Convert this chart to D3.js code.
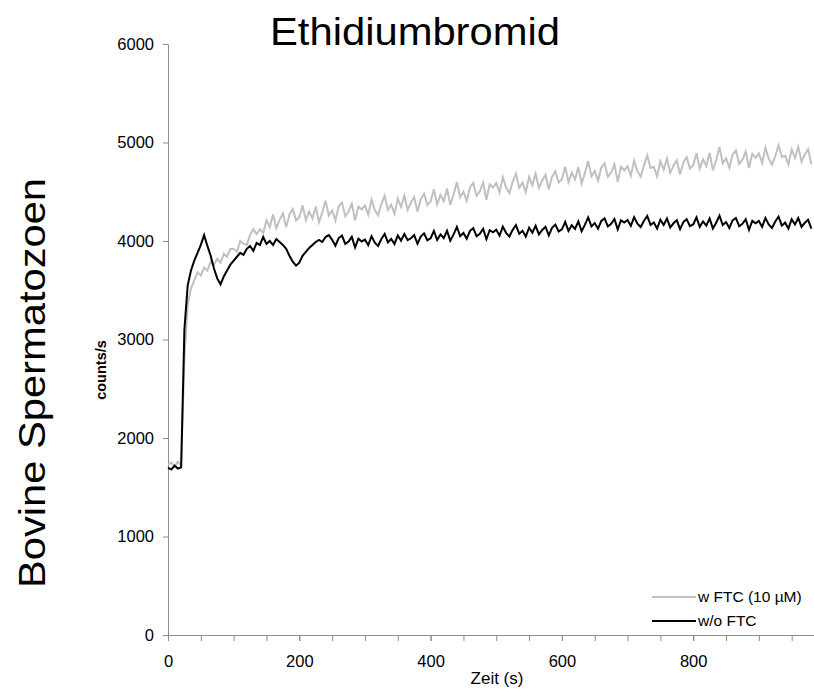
<!DOCTYPE html>
<html>
<head>
<meta charset="utf-8">
<script src="https://cdn.jsdelivr.net/npm/d3@7"></script>
<style>
  body { margin: 0; background: #fff; }
  svg text { font-family: "Liberation Sans", Arial, sans-serif; }
  .axis path, .axis line { stroke: #8c8c8c; }
  .axis text { font-size: 16.5px; fill: #000; }
</style>
</head>
<body>
<div id="chart"></div>
<script>
// samples every 5 s, starting at t = 0
const sampleStep = 5;

const withFTC = [
  1730, 1750, 1710, 1760, 1720, 2800, 3350, 3520, 3600, 3680,
  3650, 3730, 3700, 3790, 3760, 3820, 3780, 3870, 3840, 3920,
  3920, 3890, 4000, 3970, 3960, 4060, 4120, 4070, 4120, 4080,
  4210, 4140, 4270, 4130, 4215, 4280, 4140, 4270, 4325, 4210,
  4240, 4360, 4210, 4300, 4230, 4350, 4190, 4290, 4410, 4260,
  4310, 4210, 4350, 4390, 4250, 4300, 4380, 4210, 4350, 4320,
  4360, 4265, 4420, 4315, 4260, 4375, 4460, 4315, 4370, 4275,
  4430, 4345, 4460, 4315, 4390, 4445, 4300, 4425, 4480, 4365,
  4400, 4526, 4372, 4468, 4404, 4530, 4366, 4472, 4598, 4444,
  4500, 4407, 4544, 4591, 4458, 4505, 4592, 4419, 4576, 4543,
  4590, 4494, 4648, 4542, 4486, 4600, 4684, 4538, 4592, 4496,
  4650, 4566, 4682, 4538, 4614, 4670, 4526, 4652, 4708, 4594,
  4630, 4754, 4598, 4692, 4626, 4750, 4584, 4688, 4812, 4656,
  4710, 4613, 4746, 4789, 4652, 4695, 4778, 4601, 4754, 4717,
  4760, 4663, 4816, 4709, 4652, 4765, 4868, 4741, 4754, 4657,
  4810, 4724, 4838, 4692, 4766, 4820, 4674, 4798, 4852, 4736,
  4770, 4893, 4736, 4829, 4762, 4895, 4718, 4821, 4954, 4787,
  4840, 4743, 4876, 4919, 4782, 4825, 4908, 4741, 4884, 4847,
  4890, 4792, 4944, 4836, 4778, 4860, 4972, 4854, 4866, 4778,
  4930, 4842, 4954, 4806, 4878, 4930, 4780
];

const withoutFTC = [
  1700, 1680, 1720, 1690, 1700, 3100, 3550, 3700, 3800, 3880,
  3960, 4060, 3950, 3850, 3720, 3620, 3560, 3640, 3700, 3760,
  3800, 3840, 3880, 3860, 3920, 3950, 3900, 3980, 3960, 4040,
  3970, 4000, 3960, 4020, 3990, 3960, 3920, 3850, 3790, 3750,
  3780, 3850, 3890, 3930, 3960, 3990, 4010, 3990, 4040, 4060,
  4012, 3952, 4030, 4054, 3970, 3994, 4042, 3934, 4024, 3995,
  4014, 3957, 4049, 3983, 3950, 4020, 4072, 3985, 4021, 3970,
  4056, 4004, 4072, 4008, 4028, 4060, 3972, 4046, 4078, 4008,
  4028, 4103, 4010, 4067, 4028, 4103, 4004, 4067, 4142, 4049,
  4082, 4024, 4104, 4130, 4048, 4074, 4124, 4018, 4110, 4088,
  4114, 4055, 4146, 4083, 4046, 4113, 4162, 4073, 4104, 4045,
  4136, 4085, 4154, 4067, 4112, 4145, 4058, 4133, 4166, 4097,
  4118, 4194, 4102, 4160, 4122, 4198, 4100, 4164, 4240, 4148,
  4182, 4124, 4204, 4230, 4148, 4174, 4224, 4118, 4210, 4188,
  4214, 4153, 4242, 4176, 4142, 4206, 4254, 4164, 4188, 4127,
  4216, 4162, 4228, 4138, 4180, 4210, 4120, 4192, 4222, 4150,
  4168, 4240, 4144, 4198, 4156, 4228, 4126, 4186, 4258, 4162,
  4192, 4132, 4210, 4234, 4150, 4174, 4222, 4114, 4204, 4180,
  4204, 4144, 4234, 4168, 4132, 4198, 4246, 4156, 4186, 4126,
  4221, 4167, 4233, 4143, 4185, 4215, 4125
];

const seriesNames = ['w FTC (10 µM)', 'w/o FTC'];
const seriesColors = ['#c0c0c0', '#000000'];
const yTicks = [0, 1000, 2000, 3000, 4000, 5000, 6000];
const xLabelTicks = [0, 200, 400, 600, 800];
const xMinorTicks = [0, 50, 100, 150, 200, 250, 300, 350, 400, 450, 500, 550, 600, 650, 700, 750, 800, 850, 900, 950];

const config = {
  width: 814,
  height: 689,
  margin: {top: 44, right: 0, bottom: 54, left: 168}
};

const innerW = config.width - config.margin.left - config.margin.right;
const innerH = config.height - config.margin.top - config.margin.bottom;

const svg = d3.select('#chart').append('svg')
    .attr('width', config.width)
    .attr('height', config.height);

const chart = svg.append('g')
    .attr('transform', `translate(${config.margin.left},${config.margin.top})`);

const xScale = d3.scaleLinear().domain([0, 984]).range([0, innerW]);
const yScale = d3.scaleLinear().domain([0, 6000]).range([innerH, 0]);

// minor ticks first, then labelled axis on top
chart.append('g')
    .attr('class', 'axis')
    .attr('transform', `translate(0,${innerH})`)
    .call(d3.axisBottom(xScale).tickValues(xMinorTicks).tickSize(6).tickSizeOuter(0).tickFormat(''));

chart.append('g')
    .attr('class', 'axis x-axis')
    .attr('transform', `translate(0,${innerH})`)
    .call(d3.axisBottom(xScale).tickValues(xLabelTicks).tickSize(6).tickSizeOuter(0).tickPadding(14));

chart.append('g')
    .attr('class', 'axis y-axis')
    .call(d3.axisLeft(yScale).tickValues(yTicks).tickSize(5).tickSizeOuter(0).tickPadding(9).tickFormat(d3.format('d')));

const line = d3.line()
    .x((d, i) => xScale(i * sampleStep))
    .y(d => yScale(d));

chart.append('path')
    .datum(withFTC)
    .attr('fill', 'none')
    .attr('stroke', seriesColors[0])
    .attr('stroke-width', 2)
    .attr('d', line);

chart.append('path')
    .datum(withoutFTC)
    .attr('fill', 'none')
    .attr('stroke', seriesColors[1])
    .attr('stroke-width', 2)
    .attr('d', line);

// legend
const legend = svg.append('g').attr('transform', 'translate(652,597)');
seriesNames.forEach((name, i) => {
  const row = legend.append('g').attr('transform', `translate(0,${i * 24})`);
  row.append('line')
      .attr('x1', 0).attr('x2', 44)
      .attr('stroke', seriesColors[i])
      .attr('stroke-width', 2);
  row.append('text')
      .attr('x', 46).attr('dy', '0.35em')
      .style('font-size', '15.5px')
      .text(name);
});

// titles
svg.append('text')
    .attr('x', 415).attr('y', 45)
    .attr('text-anchor', 'middle')
    .attr('textLength', 290)
    .attr('lengthAdjust', 'spacingAndGlyphs')
    .style('font-size', '38px')
    .text('Ethidiumbromid');

svg.append('text')
    .attr('x', 497).attr('y', 684)
    .attr('text-anchor', 'middle')
    .style('font-size', '17px')
    .text('Zeit (s)');

svg.append('text')
    .attr('transform', 'translate(106,370) rotate(-90)')
    .attr('text-anchor', 'middle')
    .style('font-size', '14.5px')
    .style('font-weight', 'bold')
    .text('counts/s');

svg.append('text')
    .attr('transform', 'translate(45,383) rotate(-90)')
    .attr('text-anchor', 'middle')
    .attr('textLength', 410)
    .attr('lengthAdjust', 'spacingAndGlyphs')
    .style('font-size', '37px')
    .text('Bovine Spermatozoen');
</script>
</body>
</html>
